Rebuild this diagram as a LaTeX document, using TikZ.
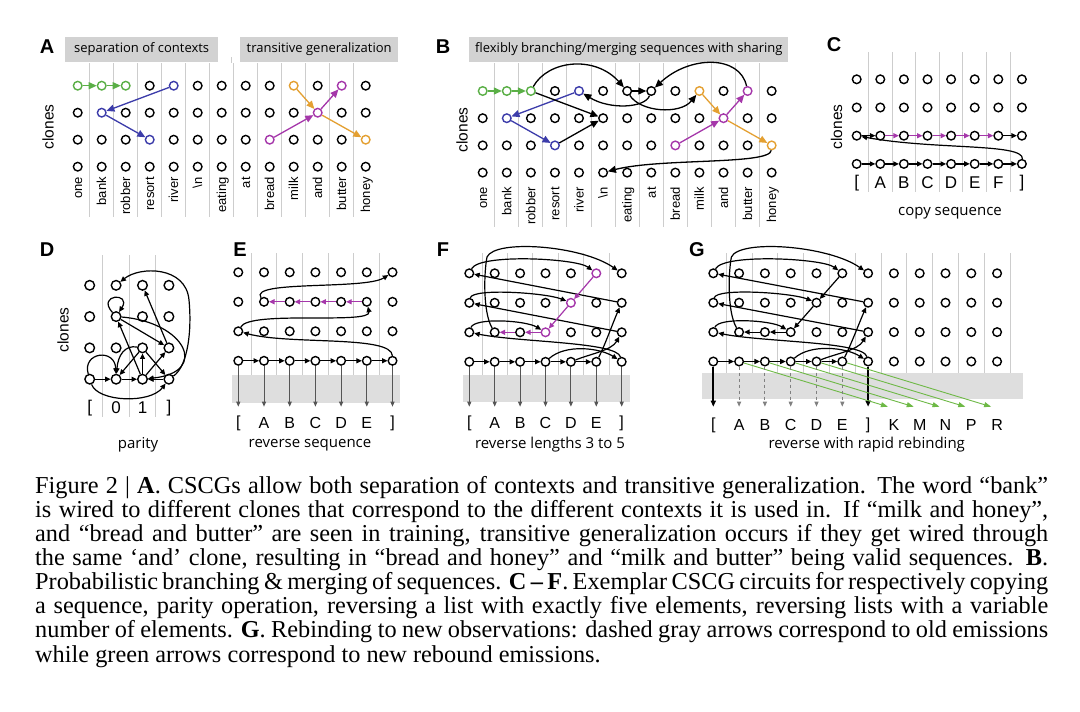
\documentclass[tikz,border=0pt]{standalone}
\usepackage{fontspec}
\setmainfont{Liberation Serif}
\newfontfamily\lsans{Liberation Sans}
\newfontfamily\hsans{Open Sans}
\usetikzlibrary{arrows.meta,calc}
\definecolor{cgreen}{RGB}{90,175,70}
\definecolor{cblue}{RGB}{60,60,170}
\definecolor{corange}{RGB}{228,160,50}
\definecolor{cpurple}{RGB}{165,55,170}
\definecolor{cgline}{RGB}{205,205,205}
\definecolor{cbox}{RGB}{210,210,210}
\definecolor{cband}{RGB}{222,222,222}
\definecolor{cdown}{RGB}{85,85,85}
\definecolor{cgreentwo}{RGB}{110,185,70}
\newcommand\mkcol[2]{\expandafter\def\csname col#1\endcsname{#2}}
\newcommand\mkgrid[8]{%
  \foreach \r in {0,...,#3}{\foreach \c in {0,...,#2}{%
    \edef\cc{\ifcsname col#1-\r-\c\endcsname\csname col#1-\r-\c\endcsname\else black\fi}%
    \node[cl,#8,draw=\cc] (#1-\r-\c) at ({#4+#5*\c},{#6+#7*\r}) {};
  }}}
\newcommand\revgraph[2]{%
  \draw[arrS] (#1-3-3) .. controls +(20,-18) and +(-22,-14) .. (#1-3-6);
  \draw[arrS] (#1-3-4) .. controls +(20,-8) and +(-10,18) .. (#1-2-6);
  \draw[arrS] (#1-3-5) .. controls +(8,-15) and +(-8,18) .. (#1-1-6);
  \draw[arrS] (#1-1-6) -- (#1-0-0);
  \draw[arrS] (#1-2-6) -- (#1-1-0);
  \draw[arrS] (#1-3-6) .. controls +(-5,-20) and +(50,10) .. (#1-2-0);
  \draw[arrS] (#1-0-0) .. controls +(10,-20) and +(-20,-15) .. (#1-0-5);
  \draw[arrS] (#1-1-0) .. controls +(3,-15) and +(-25,-10) .. (#1-1-4);
  \draw[arrS] (#1-2-0) .. controls +(5,-15) and +(-20,-12) .. (#1-2-3);
  \draw[arrS,#2] (#1-0-5) -- (#1-1-4);
  \draw[arrS,#2] (#1-1-4) -- (#1-2-3);
  \draw[arrS,#2] (#1-2-3) -- (#1-2-2);
  \draw[arrS,#2] (#1-2-2) -- (#1-2-1);
  \draw[arrS] (#1-2-1) .. controls +(-12,-20) and +(-3,15) .. ($(#1-0-1)+(-7.7,-16.3)$)
     .. controls +(8,-18) and +(-40,-28) .. (#1-0-6);
  \foreach \c in {0,...,4}{\pgfmathtruncatemacro\n{\c+1}\draw[arrS] (#1-3-\c) -- (#1-3-\n);}
}
\begin{document}
\begin{tikzpicture}[x=1pt,y=-1pt,
  cl/.style={circle,draw=black,line width=1.4pt,minimum size=8.6pt,inner sep=0pt,fill=white},
  cbig/.style={minimum size=9.6pt},
  arrA/.style={-{Triangle[length=8pt,width=7pt]},line width=1.3pt},
  arrS/.style={-{Triangle[length=5.5pt,width=5pt]},line width=1.2pt},
  downa/.style={-{Triangle[length=5pt,width=4pt]},line width=1pt,cdown},
  vline/.style={cgline,line width=1pt},
  lab/.style={font=\lsans\fontsize{13}{13}\selectfont,rotate=90,anchor=base east,inner sep=0pt},
  clon/.style={font=\lsans\fontsize{15.5}{15.5}\selectfont,rotate=90},
  plet/.style={font=\lsans\bfseries\fontsize{20}{20}\selectfont},
  hdr/.style={fill=cbox,font=\hsans\fontsize{13}{13}\selectfont,inner sep=0pt,minimum height=24.5pt},
  ttl/.style={font=\hsans\fontsize{15}{15}\selectfont},
  blab/.style={font=\lsans\fontsize{16}{16}\selectfont},
  clab/.style={font=\lsans\fontsize{17}{17}\selectfont}]
\useasboundingbox (0,0) rectangle (1080,712);
\fill[white] (0,0) rectangle (1080,712);

% ---------------- A
\node[plet] (Alet) at (47,47) {A};
\node[hdr,minimum width=152.7pt] (Ah1) at (141.7,49.5) {separation of contexts};
\node[hdr,minimum width=158.3pt] (Ah2) at (319.2,49.5) {transitive generalization};
\foreach \c in {0,...,11} \draw[vline] ({77.7+24*(\c+0.5)},63) -- ({77.7+24*(\c+0.5)},217);
\draw[vline] (231.7,57) -- (231.7,63);
\mkcol{A-0-0}{cgreen}\mkcol{A-0-1}{cgreen}\mkcol{A-0-2}{cgreen}
\mkcol{A-0-4}{cblue}\mkcol{A-1-1}{cblue}\mkcol{A-2-3}{cblue}
\mkcol{A-0-9}{corange}\mkcol{A-2-12}{corange}
\mkcol{A-2-8}{cpurple}\mkcol{A-1-10}{cpurple}\mkcol{A-0-11}{cpurple}
\mkgrid{A}{12}{3}{77.7}{24}{85.7}{27}{}
\node[clon] (Acl) at (48,127) {clones};
\foreach \w [count=\c from 0] in {one,bank,robber,resort,river,\textbackslash n,eating,at,bread,milk,and,butter,honey}
  \node[lab] (Aw-\c) at ({77.7+24*\c+4.5},177) {\w};
\draw[arrA,cgreen] (A-0-0) -- (A-0-1);
\draw[arrA,cgreen] (A-0-1) -- (A-0-2);
\draw[arrA,cblue] (A-0-4) -- (A-1-1);
\draw[arrA,cblue] (A-1-1) -- (A-2-3);
\draw[arrA,corange] (A-0-9) -- (A-1-10);
\draw[arrA,corange] (A-1-10) -- (A-2-12);
\draw[arrA,cpurple] (A-2-8) -- (A-1-10);
\draw[arrA,cpurple] (A-1-10) -- (A-0-11);

% ---------------- B
\node[plet] (Blet) at (443,47) {B};
\node[hdr,minimum width=319pt] (Bh) at (628.8,49.5) {flexibly branching/merging sequences with sharing};
\foreach \c in {0,...,11} \draw[vline] ({482.7+24.08*(\c+0.5)},63) -- ({482.7+24.08*(\c+0.5)},227);
\mkcol{B-0-0}{cgreen}\mkcol{B-0-1}{cgreen}\mkcol{B-0-2}{cgreen}
\mkcol{B-0-4}{cblue}\mkcol{B-1-1}{cblue}\mkcol{B-2-3}{cblue}
\mkcol{B-0-9}{corange}\mkcol{B-2-12}{corange}
\mkcol{B-2-8}{cpurple}\mkcol{B-1-10}{cpurple}\mkcol{B-0-11}{cpurple}
\mkgrid{B}{12}{3}{482.7}{24.08}{91}{27.2}{}
\node[clon] (Bcl) at (462,130) {clones};
\foreach \w [count=\c from 0] in {one,bank,robber,resort,river,\textbackslash n,eating,at,bread,milk,and,butter,honey}
  \node[lab] (Bw-\c) at ({482.7+24.08*\c+4.5},187) {\w};
\draw[arrA,cgreen] (B-0-0) -- (B-0-1);
\draw[arrA,cgreen] (B-0-1) -- (B-0-2);
\draw[arrA,cblue] (B-0-4) -- (B-1-1);
\draw[arrA,cblue] (B-1-1) -- (B-2-3);
\draw[arrA,corange] (B-0-9) -- (B-1-10);
\draw[arrA,corange] (B-1-10) -- (B-2-12);
\draw[arrA,cpurple] (B-2-8) -- (B-1-10);
\draw[arrA,cpurple] (B-1-10) -- (B-0-11);
\draw[arrA] (B-0-2) .. controls (548,60) and (595,55) .. (B-0-6);
\draw[arrA] (B-0-11) .. controls (740,55) and (690,55) .. (B-0-7);
\draw[arrA] (B-0-7) .. controls (645,108) and (610,110) .. (B-0-4);
\draw[arrA] (B-0-6) .. controls (640,112) and (680,115) .. (B-0-9);
\draw[arrA] (B-2-12) .. controls (770,165) and (660,158) .. (B-3-5);
\draw[arrA] (B-0-2) -- (B-1-5);
\draw[arrA] (B-2-3) -- (B-1-5);
\draw[arrA] (B-0-6) -- (B-0-7);

% ---------------- C
\node[plet] (Clet) at (834,45) {C};
\foreach \c in {0,...,6} \draw[vline] ({856.7+23.6*(\c+0.5)},52) -- ({856.7+23.6*(\c+0.5)},192);
\foreach \c in {1,...,6} {\mkcol{C-2-\c}{cpurple}}
\mkgrid{C}{7}{3}{856.7}{23.6}{79.3}{28.2}{}
\node[clon] (Ccl) at (836.7,127) {clones};
\foreach \w [count=\c from 0] in {{[},A,B,C,D,E,F,{]}}
  \node[clab] (Cw-\c) at ({856.7+23.6*\c},183) {\w};
\node[ttl] (Cttl) at (950,213) {copy sequence};
\foreach \c in {0,...,6}{\pgfmathtruncatemacro\n{\c+1}\draw[arrS] (C-3-\c) -- (C-3-\n);}
\draw[arrS] (C-2-0) -- (C-2-1);
\foreach \c in {1,...,5}{\pgfmathtruncatemacro\n{\c+1}\draw[arrS,cpurple] (C-2-\c) -- (C-2-\n);}
\draw[arrS] (C-2-6) -- (C-2-7);
\draw[arrS] (C-3-7) .. controls (1024,143) and (935,150) .. (C-2-0);

% ---------------- D
\node[plet] (Dlet) at (47,250) {D};
\foreach \c in {0,...,2} \draw[vline] ({89.7+26.4*(\c+0.5)},255) -- ({89.7+26.4*(\c+0.5)},417);
\mkgrid{D}{3}{3}{89.7}{26.4}{285.3}{31.3}{cbig}
\node[clon] (Dcl) at (63,330) {clones};
\foreach \w [count=\c from 0] in {{[},0,1,{]}}
  \node[clab] (Dw-\c) at ({89.7+26.4*\c},408) {\w};
\node[ttl] (Dttl) at (138,445) {parity};
\draw[arrS] (D-3-0) -- (D-3-1);
\draw[arrS] (D-3-1) -- (D-3-2);
\draw[arrS] (D-3-0) .. controls (82,352) and (115,348) .. (D-3-1);
\draw[arrS] (D-1-1) .. controls (96,294) and (132,292) .. (D-1-1);
\draw[arrS] (D-1-1) -- (D-2-3);
\draw[arrS] (D-1-1) .. controls (185,322) and (210,372) .. (D-3-2);
\draw[arrS] (D-3-2) -- (D-1-1);
\draw[arrS] (D-2-3) -- (D-0-2);
\draw[arrS] (D-3-3) .. controls (188,366) and (192,330) .. (189,300) .. controls (186,266) and (140,266) .. (D-0-1);
\draw[arrS] (D-3-2) -- (D-2-2);
\draw[arrS] (D-3-2) -- (D-2-3);
\draw[arrS] (D-2-2) -- (D-3-1);
\draw[arrS] (D-2-2) -- (D-3-3);
\draw[arrS] (D-3-3) -- (D-3-2);
\draw[arrS] (D-3-0) .. controls (98,402) and (150,404) .. (D-3-3);
\draw[arrS] (D-2-2) .. controls (125,345) and (118,355) .. (D-3-1);

% ---------------- E
\node[plet] (Elet) at (240,250) {E};
\foreach \c in {0,...,5} \draw[vline] ({238.3+25.7*(\c+0.5)},253) -- ({238.3+25.7*(\c+0.5)},375);
\fill[cband] (231.7,375) rectangle (400,403.3);
\foreach \c in {1,...,5} {\mkcol{E-1-\c}{cpurple}}
\mkgrid{E}{6}{3}{238.3}{25.7}{272.3}{29.5}{}
\foreach \w [count=\c from 0] in {{[},A,B,C,D,E,{]}}{
  \coordinate (Eo-\c) at ({238.3+25.7*\c},406.7);
  \draw[downa] (E-3-\c) -- (Eo-\c);
  \node[blab] (Ew-\c) at ({238.3+25.7*\c},423) {\w};}
\node[ttl] (Ettl) at (310,445) {reverse sequence};
\foreach \c in {0,...,5}{\pgfmathtruncatemacro\n{\c+1}\draw[arrS] (E-3-\c) -- (E-3-\n);}
\foreach \c in {5,...,2}{\pgfmathtruncatemacro\n{\c-1}\draw[arrS,cpurple] (E-1-\c) -- (E-1-\n);}
\draw[arrS] (E-3-6) .. controls (392,335) and (290,345) .. (E-2-0);
\draw[arrS] (E-2-0) .. controls (250,310) and (372,325) .. (E-1-5);
\draw[arrS] (E-1-1) .. controls (248,280) and (365,290) .. (E-0-6);

% ---------------- F
\node[plet] (Flet) at (443,250) {F};
\foreach \c in {0,...,5} \draw[vline] ({469.3+25.4*(\c+0.5)},253) -- ({469.3+25.4*(\c+0.5)},375);
\fill[cband] (463,375) rectangle (630,401.7);
\mkcol{F-0-5}{cpurple}\mkcol{F-1-4}{cpurple}\mkcol{F-2-3}{cpurple}
\mkgrid{F}{6}{3}{469.3}{25.4}{273.3}{29.5}{}
\foreach \w [count=\c from 0] in {{[},A,B,C,D,E,{]}}{
  \coordinate (Fo-\c) at ({469.3+25.4*\c},406.7);
  \draw[downa] (F-3-\c) -- (Fo-\c);
  \node[blab] (Fw-\c) at ({469.3+25.4*\c},423) {\w};}
\node[ttl] (Fttl) at (550,445) {reverse lengths 3 to 5};
\revgraph{F}{cpurple}

% ---------------- G
\node[plet] (Glet) at (697,250) {G};
\foreach \c in {0,...,11} \draw[vline] ({713.3+25.8*(\c+0.5)},253) -- ({713.3+25.8*(\c+0.5)},373.3);
\fill[cband] (701.7,373.3) rectangle (1023.3,399.3);
\mkgrid{G}{11}{3}{713.3}{25.8}{273.3}{29.4}{}
\foreach \w [count=\c from 0] in {{[},A,B,C,D,E,{]},K,M,N,P,R}
  \node[blab] (Gw-\c) at ({713.3+25.8*\c},425) {\w};
\foreach \c in {0,...,6} \coordinate (Go-\c) at ({713.3+25.8*\c},406.7);
\draw[-{Triangle[length=6pt,width=5pt]},line width=1.8pt] (G-3-0) -- (Go-0);
\draw[-{Triangle[length=6pt,width=5pt]},line width=1.8pt] (G-3-6) -- (Go-6);
\foreach \c in {1,...,5}{
  \draw[downa,dashed,gray] (G-3-\c) -- (Go-\c);
  \coordinate (Gg-\c) at ({713.3+25.8*(\c+6)-6},406.7);
  \draw[-{Triangle[length=7pt,width=5pt]},line width=0.9pt,cgreentwo] (G-3-\c) -- (Gg-\c);}
\node[ttl] (Gttl) at (866.7,445) {reverse with rapid rebinding};
\revgraph{G}{black}

% ---------------- caption
\node[anchor=base west,inner sep=0pt,align=left,font=\fontsize{24.3}{24.1}\selectfont] (cap) at (35,662) {%
\makebox[1013pt][s]{Figure 2 | \textbf{A}. CSCGs allow both separation of contexts and transitive generalization. The word “bank”}\\
\makebox[1013pt][s]{is wired to different clones that correspond to the different contexts it is used in. If “milk and honey”,}\\
\makebox[1013pt][s]{and “bread and butter” are seen in training, transitive generalization occurs if they get wired through}\\
\makebox[1013pt][s]{the same ‘and’ clone, resulting in “bread and honey” and “milk and butter” being valid sequences. \textbf{B}.}\\
\makebox[1013pt][s]{Probabilistic branching \& merging of sequences. \textbf{C – F}. Exemplar CSCG circuits for respectively copying}\\
\makebox[1013pt][s]{a sequence, parity operation, reversing a list with exactly five elements, reversing lists with a variable}\\
\makebox[1013pt][s]{number of elements. \textbf{G}. Rebinding to new observations: dashed gray arrows correspond to old emissions}\\
while green arrows correspond to new rebound emissions.};
\end{tikzpicture}
\end{document}
